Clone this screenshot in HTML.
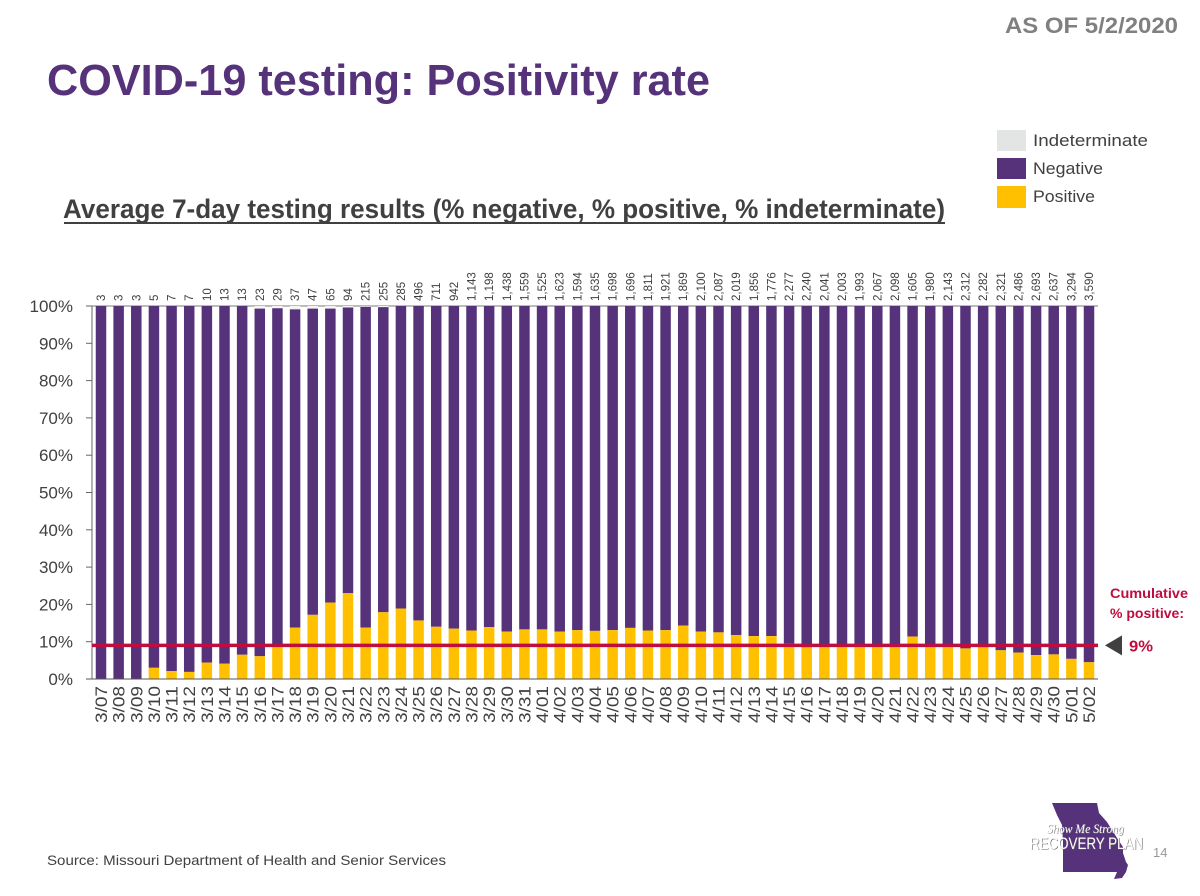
<!DOCTYPE html>
<html lang="en">
<head>
<meta charset="utf-8">
<title>COVID-19 testing: Positivity rate</title>
<style>
html,body{margin:0;padding:0;background:#fff;width:1200px;height:896px;overflow:hidden}
svg{display:block;font-family:"Liberation Sans",sans-serif}
</style>
</head>
<body>
<svg id="slide" width="1200" height="896" viewBox="0 0 1200 896" xmlns="http://www.w3.org/2000/svg">
  <rect x="0" y="0" width="1200" height="896" fill="#ffffff"/>
  <text x="1005" y="33" font-size="22" font-weight="700" fill="#808080" textLength="173" lengthAdjust="spacingAndGlyphs">AS OF 5/2/2020</text>
  <text x="47" y="95" font-size="44" font-weight="700" fill="#55327a" textLength="663" lengthAdjust="spacingAndGlyphs">COVID-19 testing: Positivity rate</text>
  <text x="63" y="218" font-size="27" font-weight="700" fill="#404040" textLength="882" lengthAdjust="spacingAndGlyphs">Average 7-day testing results (% negative, % positive, % indeterminate)</text>
  <rect x="64" y="222" width="881" height="2" fill="#404040"/>

  <g>
    <rect x="997" y="130" width="29" height="21" fill="#e3e5e5"/>
    <text x="1033" y="146" font-size="17" fill="#404040" textLength="115" lengthAdjust="spacingAndGlyphs">Indeterminate</text>
    <rect x="997" y="158" width="29" height="21" fill="#55327a"/>
    <text x="1033" y="174" font-size="17" fill="#404040" textLength="70" lengthAdjust="spacingAndGlyphs">Negative</text>
    <rect x="997" y="186" width="29" height="22" fill="#ffc000"/>
    <text x="1033" y="202" font-size="17" fill="#404040" textLength="62" lengthAdjust="spacingAndGlyphs">Positive</text>
  </g>

  <g id="chart"></g>

  <text x="1110" y="598" font-size="14" font-weight="700" fill="#c00d3f" textLength="78" lengthAdjust="spacingAndGlyphs">Cumulative</text>
  <text x="1110" y="618" font-size="14" font-weight="700" fill="#c00d3f" textLength="74" lengthAdjust="spacingAndGlyphs">% positive:</text>

  <text x="47" y="865" font-size="14" fill="#404040" textLength="399" lengthAdjust="spacingAndGlyphs">Source: Missouri Department of Health and Senior Services</text>

  <g>
    <polygon fill="#55327a" points="1052,803 1097,803 1099,813 1107,822 1112,830 1117,838 1123,847 1123,853 1126,862 1128,865 1126,872 1122,878 1114,879 1117,872 1063,872 1063,842 1062,825 1057,815"/>
    <text x="1047.6" y="833.6" font-size="13" font-style="italic" font-family="'Liberation Serif',serif" fill="#777" textLength="77" lengthAdjust="spacingAndGlyphs">Show Me Strong</text>
    <text x="1047" y="833" font-size="13" font-style="italic" font-family="'Liberation Serif',serif" fill="#fff" textLength="77" lengthAdjust="spacingAndGlyphs">Show Me Strong</text>
    <text x="1030.6" y="849.6" font-size="17" fill="#666" textLength="113" lengthAdjust="spacingAndGlyphs">RECOVERY PLAN</text>
    <text x="1030" y="849" font-size="17" fill="#fff" textLength="113" lengthAdjust="spacingAndGlyphs">RECOVERY PLAN</text>
  </g>
  <text x="1153" y="857" font-size="13" fill="#999999">14</text>
</svg>

<script>
const categories = ["3/07","3/08","3/09","3/10","3/11","3/12","3/13","3/14","3/15","3/16","3/17","3/18","3/19","3/20","3/21","3/22","3/23","3/24","3/25","3/26","3/27","3/28","3/29","3/30","3/31","4/01","4/02","4/03","4/04","4/05","4/06","4/07","4/08","4/09","4/10","4/11","4/12","4/13","4/14","4/15","4/16","4/17","4/18","4/19","4/20","4/21","4/22","4/23","4/24","4/25","4/26","4/27","4/28","4/29","4/30","5/01","5/02"];
const positiveValues = [0,0,0,3,2.1,1.9,4.4,4.1,6.5,6.1,9.2,13.8,17.2,20.5,23,13.8,17.9,18.9,15.7,14,13.5,13,13.9,12.7,13.3,13.3,12.7,13.1,12.9,13.1,13.7,13,13.1,14.3,12.7,12.5,11.8,11.5,11.5,9.5,8.5,9.3,9,9,9,9,11.4,9,9,8.2,8.5,7.7,7.1,6.4,6.6,5.4,4.5];
const negativeValues = [100,100,100,97,97.9,98.1,95.6,95.9,93.5,93.2,90.2,85.3,82.1,78.8,76.6,86,81.8,81.1,84.3,86,86.5,87,86.1,87.3,86.7,86.7,87.3,86.9,87.1,86.9,86.3,87,86.9,85.7,87.3,87.5,88.2,88.5,88.5,90.5,91.5,90.7,91,91,91,91,88.6,91,91,91.8,91.5,92.3,92.9,93.6,93.4,94.6,95.5];
const indeterminateValues = [0,0,0,0,0,0,0,0,0,0.7,0.6,0.9,0.7,0.7,0.4,0.2,0.3,0,0,0,0,0,0,0,0,0,0,0,0,0,0,0,0,0,0,0,0,0,0,0,0,0,0,0,0,0,0,0,0,0,0,0,0,0,0,0,0];
const testCountLabels = ["3","3","3","5","7","7","10","13","13","23","29","37","47","65","94","215","255","285","496","711","942","1,143","1,198","1,438","1,559","1,525","1,623","1,594","1,635","1,698","1,696","1,811","1,921","1,869","2,100","2,087","2,019","1,856","1,776","2,277","2,240","2,041","2,003","1,993","2,067","2,098","1,605","1,980","2,143","2,312","2,282","2,321","2,486","2,693","2,637","3,294","3,590"];
const yTicks = [0,10,20,30,40,50,60,70,80,90,100];
const cumulativePositive = 9;

const NS = "http://www.w3.org/2000/svg";
const chart = document.getElementById("chart");
const plot = { left: 92, right: 1098, top: 306, bottom: 679, firstCenter: 101, lastCenter: 1089, barWidth: 10.5 };

function xCenter(i) {
  return plot.firstCenter + i * (plot.lastCenter - plot.firstCenter) / (categories.length - 1);
}
function yScale(v) {
  return plot.bottom - (v / 100) * (plot.bottom - plot.top);
}
function make(tag, parent) {
  const el = document.createElementNS(NS, tag);
  parent.appendChild(el);
  return el;
}
function setAll(el, props) {
  Object.keys(props).forEach(function (k) { el.setAttribute(k, props[k]); });
}

// top reference line at 100%
const topLine = make("line", chart);


setAll(topLine, { x1: plot.left - 6, x2: plot.right, y1: yScale(100), y2: yScale(100), stroke: "#7a7a7a", "stroke-width": 1 });

// y axis ticks + labels
yTicks.forEach(function (t) {
  const tick = make("line", chart);
  
  
  setAll(tick, { x1: plot.left - 6, x2: plot.left, y1: yScale(t), y2: yScale(t), stroke: "#666666", "stroke-width": 1 });
  const lab = make("text", chart);
  
  
  setAll(lab, { x: 73, y: yScale(t) + 6, "font-size": 17, fill: "#404040", "text-anchor": "end" });
  lab.textContent = t + "%";
});

// stacked bars
categories.forEach(function (cat, i) {
  const cx = xCenter(i);
  const x0 = cx - plot.barWidth / 2;
  const pos = positiveValues[i], neg = negativeValues[i], ind = indeterminateValues[i];

  const rInd = make("rect", chart);
  
  
  setAll(rInd, { x: x0, width: plot.barWidth, y: yScale(pos + neg + ind), height: yScale(pos + neg) - yScale(pos + neg + ind), fill: "#f4f4f4" });

  const rNeg = make("rect", chart);
  
  
  setAll(rNeg, { x: x0, width: plot.barWidth, y: yScale(pos + neg), height: yScale(pos) - yScale(pos + neg), fill: "#55327a" });

  const rPos = make("rect", chart);
  
  
  setAll(rPos, { x: x0, width: plot.barWidth, y: yScale(pos), height: yScale(0) - yScale(pos), fill: "#ffc000" });

  const dateLab = make("text", chart);
  
  
  setAll(dateLab, { transform: "translate(" + (cx + 6) + ",686) rotate(-90)", "font-size": 16.5, fill: "#404040", "text-anchor": "end", textLength: 37, lengthAdjust: "spacingAndGlyphs" });
  dateLab.textContent = cat;

  const countLab = make("text", chart);
  
  
  setAll(countLab, { transform: "translate(" + (cx + 4) + ",301) rotate(-90)", "font-size": 11.5, fill: "#404040" });
  countLab.textContent = testCountLabels[i];
});

// axes
const yAxis = make("line", chart);


setAll(yAxis, { x1: plot.left, x2: plot.left, y1: plot.top, y2: plot.bottom, stroke: "#666666", "stroke-width": 1 });

const xAxis = make("line", chart);


setAll(xAxis, { x1: plot.left - 6, x2: plot.right, y1: plot.bottom, y2: plot.bottom, stroke: "#555555", "stroke-width": 1 });

// cumulative reference line
const refLine = make("line", chart);


setAll(refLine, { x1: plot.left, x2: plot.right, y1: yScale(cumulativePositive), y2: yScale(cumulativePositive), stroke: "#c00d3f", "stroke-width": 3.5 });

const refY = yScale(cumulativePositive);
const marker = make("polygon", chart);


setAll(marker, { points: "1105," + refY + " 1122," + (refY - 10) + " 1122," + (refY + 10), fill: "#404040" });

const refLabel = make("text", chart);


setAll(refLabel, { x: 1129, y: refY + 6, "font-size": 16, "font-weight": 700, fill: "#c00d3f", textLength: 24, lengthAdjust: "spacingAndGlyphs" });
refLabel.textContent = cumulativePositive + "%";
</script>
</body>
</html>
